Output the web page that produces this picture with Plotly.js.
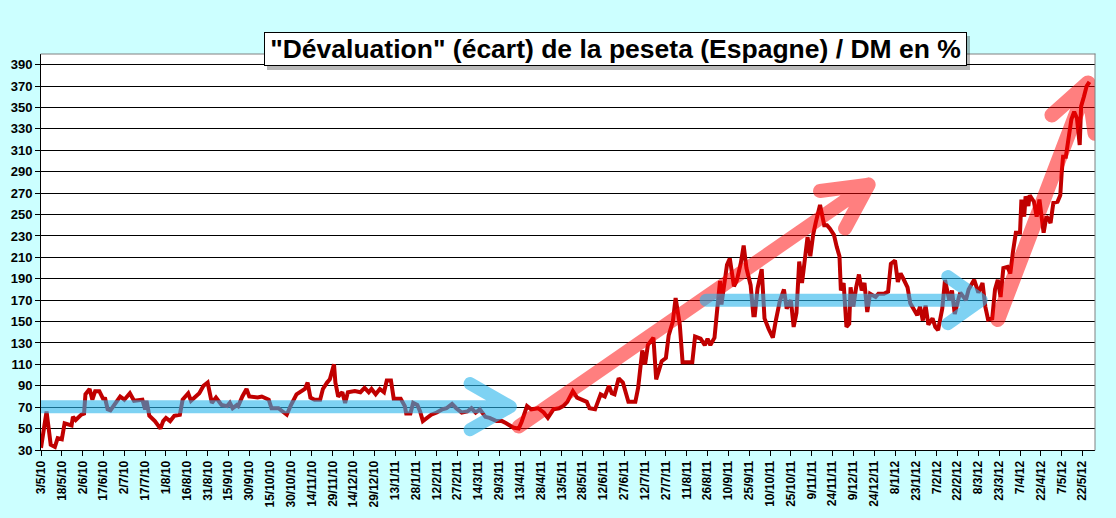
<!DOCTYPE html>
<html>
<head>
<meta charset="utf-8">
<script src="https://cdn.plot.ly/plotly-3.0.1.min.js"></script>
<style>
  html, body { margin: 0; padding: 0; background: #ccffff; }
  #graph { width: 1116px; height: 518px; }
</style>
</head>
<body>
<div id="graph"></div>
<script>
// jours écoulés depuis le 3/5/2010
var jours = [0,4,7,10,12,15,17,19,22,23,25,29,31,32,35,37,39,42,45,46,48,50,53,57,60,64,67,71,73,75,
  76,78,82,86,88,90,93,96,100,102,106,108,111,114,117,120,123,126,130,134,136,138,141,142,145,148,150,156,159,164,
  166,171,174,177,180,184,190,192,194,197,201,203,206,208,211,212,214,217,219,221,226,230,233,236,238,241,244,247,249,252,
  254,259,262,263,266,268,271,273,275,278,281,285,289,292,296,299,303,307,310,313,316,320,323,328,332,335,340,344,346,350,
  353,358,362,365,369,373,376,379,381,383,386,388,393,395,399,403,406,409,411,413,416,419,423,428,430,433,435,437,441,443,
  447,450,452,455,457,460,462,465,469,471,475,478,480,482,485,487,489,490,492,494,496,499,501,504,506,508,511,513,514,516,
  519,521,524,527,529,532,535,537,540,542,544,546,548,550,552,554,556,558,561,564,566,568,571,573,575,576,578,580,582,583,
  585,587,589,591,593,595,597,601,603,607,610,612,615,617,619,621,624,626,628,631,633,635,637,639,642,644,646,649,651,654,
  656,658,661,662,666,668,672,675,678,680,682,685,687,689,691,693,696,698,700,702,705,706,708,709,711,712,715,717,719,722,
  724,726,727,729,732,734,735,736,738,740,742,744,746,748,749,751,753,755];

// écart peseta / DM en %
var ecart = [32,66,35,33,41,40,55,54,53,61,58,63,64,82,87,77,85,85,77,79,68,67,72,80,77,83,76,77,77,68,
  76,62,57,50,57,60,57,62,63,77,83,76,80,83,90,93,74,79,72,71,74,69,72,71,80,87,80,79,80,77,
  69,69,66,63,72,82,87,93,79,77,77,87,93,96,110,93,80,84,74,84,85,84,88,84,87,82,87,84,95,95,
  78,78,71,64,64,74,72,66,57,60,63,65,68,69,73,69,65,66,69,65,68,61,60,57,57,55,51,50,56,71,
  68,69,65,60,68,69,71,75,80,85,79,78,75,69,68,82,80,90,83,82,97,93,75,75,88,123,110,128,135,96,
  113,116,137,150,172,147,112,112,112,136,134,128,134,128,135,162,188,166,188,203,209,183,188,205,221,200,184,156,156,181,
  199,153,143,135,150,169,180,162,170,145,158,206,186,209,229,211,231,243,259,240,240,237,231,220,211,179,186,145,148,182,
  164,182,194,179,186,159,176,173,176,176,178,204,207,187,195,190,182,167,162,156,164,151,165,147,153,145,142,162,189,170,
  179,157,173,177,170,180,189,177,186,164,152,153,180,189,173,200,201,195,216,233,233,264,248,267,258,268,262,248,264,233,
  248,245,242,261,262,268,289,304,304,325,339,346,340,315,351,360,370,374];

var etiquettes = ['3/5/10','18/5/10','2/6/10','17/6/10','2/7/10','17/7/10','1/8/10','16/8/10','31/8/10','15/9/10',
  '30/9/10','15/10/10','30/10/10','14/11/10','29/11/10','14/12/10','29/12/10','13/1/11','28/1/11','12/2/11',
  '27/2/11','14/3/11','29/3/11','13/4/11','28/4/11','13/5/11','28/5/11','12/6/11','27/6/11','12/7/11',
  '27/7/11','11/8/11','26/8/11','10/9/11','25/9/11','10/10/11','25/10/11','9/11/11','24/11/11','9/12/11',
  '24/12/11','8/1/12','23/1/12','7/2/12','22/2/12','8/3/12','23/3/12','7/4/12','22/4/12','7/5/12','22/5/12'];

var tickJours = etiquettes.map(function (t, i) { return i * 15; });

var police = 'Liberation Sans, Arial, sans-serif';
var bleu = 'rgba(40,180,235,0.6)';
var rose = 'rgba(255,0,0,0.5)';

function fleche(x0, y0, x1, y1, ax1, ay1, ax2, ay2, couleur, largeur) {
  return {
    type: 'path', xref: 'x', yref: 'y', layer: 'above',
    path: 'M' + x0 + ',' + y0 + 'L' + x1 + ',' + y1 +
          'M' + ax1 + ',' + ay1 + 'L' + x1 + ',' + y1 + 'L' + ax2 + ',' + ay2,
    line: { color: couleur, width: largeur }
  };
}

var courbe = {
  x: jours, y: ecart, type: 'scatter', mode: 'lines',
  line: { color: '#c00000', width: 4 }, hoverinfo: 'skip'
};

// cadre du titre, en pixels de la page
var W = 1116, H = 518, mL = 41, mR = 21, mT = 54, mB = 68;
var pw = W - mL - mR, ph = H - mT - mB;
function px(x) { return (x - mL) / pw; }
function py(y) { return (H - mB - y) / ph; }

var formes = [
  fleche(344, 52, 596, 278, 561, 272, 579, 237, rose, 14),
  fleche(0, 70.5, 338, 70.5, 309, 92, 309, 49, bleu, 13),
  fleche(479, 170, 677, 170, 653, 192, 653, 148, bleu, 13),
  fleche(689, 152, 754, 373, 728, 343, 759, 326, rose, 15),
  { type: 'line', xref: 'paper', yref: 'paper', x0: 0, x1: 1, y0: 1, y1: 1, line: { color: '#808080', width: 1 } },
  { type: 'line', xref: 'paper', yref: 'paper', x0: 1, x1: 1, y0: 0, y1: 1, line: { color: '#808080', width: 1 } },
  { type: 'rect', xref: 'paper', yref: 'paper', x0: px(267), x1: px(970), y0: py(70), y1: py(36),
    fillcolor: 'rgba(0,0,0,0.28)', line: { width: 0 } }
];

var layout = {
  width: W, height: H,
  margin: { l: mL, r: mR, t: mT, b: mB },
  paper_bgcolor: '#ccffff',
  plot_bgcolor: '#ffffff',
  showlegend: false,
  xaxis: {
    range: [0, 759], tickmode: 'array', tickvals: tickJours, ticktext: etiquettes,
    tickangle: -90, ticks: 'outside', ticklen: 5, tickcolor: '#000',
    showgrid: false, zeroline: false, showline: true, linecolor: '#000', linewidth: 1,
    tickfont: { family: police, size: 12, color: '#000', weight: 'bold' },
    automargin: false, fixedrange: true
  },
  yaxis: {
    range: [30, 400], tick0: 30, dtick: 20, ticks: 'outside', ticklen: 5, tickcolor: '#000',
    showgrid: true, gridcolor: '#000', gridwidth: 1, zeroline: false,
    showline: true, linecolor: '#000', linewidth: 1,
    tickfont: { family: police, size: 13, color: '#000', weight: 'bold' },
    automargin: false, fixedrange: true
  },
  shapes: formes,
  annotations: [{
    text: '"Dévaluation" (écart) de la peseta (Espagne) / DM en %',
    xref: 'paper', yref: 'paper', x: px(615), y: py(49), xanchor: 'center', yanchor: 'middle',
    showarrow: false, width: 701, height: 32, borderpad: 0,
    bgcolor: '#ffffff', bordercolor: '#000', borderwidth: 1,
    font: { family: police, size: 26.5, color: '#000', weight: 'bold' }
  }]
};

Plotly.newPlot('graph', [courbe], layout, { staticPlot: true, displayModeBar: false }).then(function (gd) {
  gd.querySelectorAll('.shapelayer path').forEach(function (p) {
    p.style.strokeLinecap = 'round';
    p.style.strokeLinejoin = 'round';
    if (p.getAttribute('data-index') === '3') p.removeAttribute('clip-path');
  });
});
</script>
</body>
</html>
